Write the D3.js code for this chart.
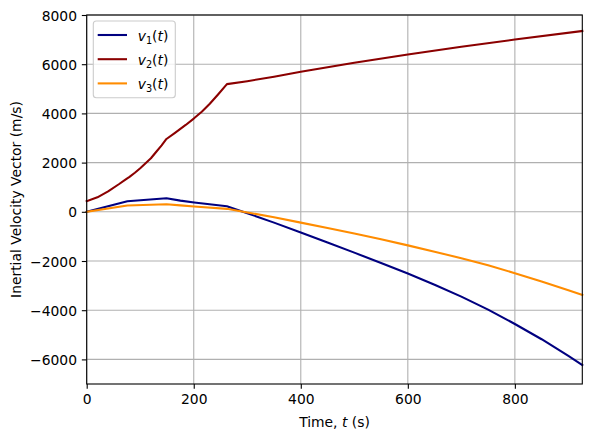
<html lang="en">
<head>
    <meta charset="UTF-8">
    <title>Inertial Velocity Vector</title>
    <script src="https://cdn.jsdelivr.net/npm/d3@7/dist/d3.min.js"></script>
    <style>
        body { margin: 0; background: #fff; }
        text { font-family: "DejaVu Sans", sans-serif; }
    </style>
</head>
<body>
    <svg id="svg"></svg>

    <script>

        var WIDTH = 592;
        var HEIGHT = 440;
        var FS = 13.89;

        // data
        var t1 = [0, 76, 149, 175, 201, 262, 300, 350, 400, 450, 500, 550, 600, 650, 700, 750, 800, 850, 900, 926];
        var v1 = [0, 430, 550, 455, 380, 226, -55, -440, -838, -1245, -1660, -2080, -2510, -2965, -3450, -3975, -4560, -5180, -5860, -6230];

        var t2 = [0, 20, 40, 60, 73, 80, 90, 100, 110, 120, 130, 140, 149, 165, 185, 200, 215, 230, 245, 262, 300, 350, 400, 500, 600, 700, 800, 926];
        var v2 = [430, 590, 830, 1120, 1320, 1422, 1587, 1770, 1974, 2178, 2442, 2700, 2960, 3210, 3530, 3790, 4070, 4390, 4760, 5190, 5310, 5490, 5690, 6060, 6394, 6710, 7003, 7350];

        var t3 = [0, 76, 149, 175, 201, 262, 300, 350, 400, 450, 500, 550, 600, 650, 700, 750, 800, 850, 900, 926];
        var v3 = [0, 255, 307, 262, 214, 120, -25, -225, -440, -660, -885, -1120, -1365, -1620, -1890, -2175, -2495, -2835, -3190, -3380];

        var xTicks = [0, 200, 400, 600, 800];
        var yTicks = [-6000, -4000, -2000, 0, 2000, 4000, 6000, 8000];

        var series = [
            {name: "1", t: t1, v: v1, color: "#000080"},
            {name: "2", t: t2, v: v2, color: "#8b0000"},
            {name: "3", t: t3, v: v3, color: "#ff8c00"}
        ];

        var PL = 86.7, PR = 582.3, PT = 15, PB = 384;

        var xScale = d3.scaleLinear().domain([0, 926]).range([PL, PR]);
        var yScale = d3.scaleLinear().domain([-7000, 8000]).range([PB, PT]);

        var svg = d3.select('#svg')
                    .attr("width", WIDTH)
                    .attr("height", HEIGHT);

        // grid
        svg.append("g").selectAll("line.gx")
            .data(xTicks).enter().append("line")
            .attr("x1", d => xScale(d)).attr("x2", d => xScale(d))
            .attr("y1", PT).attr("y2", PB)
            .attr("stroke", "#b0b0b0").attr("stroke-width", 1.1);

        svg.append("g").selectAll("line.gy")
            .data(yTicks).enter().append("line")
            .attr("y1", d => yScale(d)).attr("y2", d => yScale(d))
            .attr("x1", PL).attr("x2", PR)
            .attr("stroke", "#b0b0b0").attr("stroke-width", 1.1);

        // lines
        var line = d3.line()
            .x(d => xScale(d[0]))
            .y(d => yScale(d[1]));

        var plot = svg.append("g");
        series.forEach(function(s){
            plot.append("path")
                .datum(d3.zip(s.t, s.v))
                .attr("d", line)
                .attr("fill", "none")
                .attr("stroke", s.color)
                .attr("stroke-width", 2.08)
                .attr("stroke-linejoin", "round")
                .attr("stroke-linecap", "square");
        });

        // axes
        var fmt = function(d){ return d < 0 ? "\u2212" + Math.abs(d) : String(d); };

        var xAxis = d3.axisBottom(xScale).tickValues(xTicks).tickSize(4.86).tickPadding(4.86).tickFormat(fmt);
        var yAxis = d3.axisLeft(yScale).tickValues(yTicks).tickSize(4.86).tickPadding(4.86).tickFormat(fmt);

        var gx = svg.append("g")
            .attr("transform", "translate(0," + PB + ")")
            .call(xAxis);
        var gy = svg.append("g")
            .attr("transform", "translate(" + PL + ",0)")
            .call(yAxis);

        [gx, gy].forEach(function(g){
            g.select(".domain").remove();
            g.selectAll(".tick line").attr("stroke", "#000").attr("stroke-width", 1.1);
            g.selectAll(".tick text")
                .attr("fill", "#000")
                .attr("font-size", FS)
                .attr("font-family", "DejaVu Sans");
        });
        gx.selectAll(".tick text").attr("dy", "0.75em");
        gy.selectAll(".tick text").attr("dy", "0.36em");

        // frame
        svg.append("rect")
            .attr("x", PL).attr("y", PT)
            .attr("width", PR - PL).attr("height", PB - PT)
            .attr("fill", "none")
            .attr("stroke", "#000")
            .attr("stroke-width", 1.1);

        // labels
        var xl = svg.append("text")
            .attr("x", (PL + PR) / 2)
            .attr("y", 427)
            .attr("text-anchor", "middle")
            .attr("font-size", FS);
        xl.append("tspan").text("Time, ");
        xl.append("tspan").attr("font-style", "italic").text("t");
        xl.append("tspan").text(" (s)");

        svg.append("text")
            .attr("transform", "translate(21," + ((PT + PB) / 2) + ") rotate(-90)")
            .attr("text-anchor", "middle")
            .attr("font-size", FS)
            .text("Inertial Velocity Vector (m/s)");

        // legend
        var legend = svg.append("g");
        legend.append("rect")
            .attr("x", 93.3).attr("y", 21)
            .attr("width", 82).attr("height", 76.7)
            .attr("rx", 3).attr("ry", 3)
            .attr("fill", "#fff").attr("fill-opacity", 0.8)
            .attr("stroke", "#cccccc").attr("stroke-width", 1.1);

        series.forEach(function(s, i){
            var y = 35 + i * 24.2;
            legend.append("line")
                .attr("x1", 97.7).attr("x2", 127)
                .attr("y1", y).attr("y2", y)
                .attr("stroke", s.color).attr("stroke-width", 2.08);
            var tx = legend.append("text")
                .attr("x", 137.7).attr("y", y + 6)
                .attr("font-size", FS);
            tx.append("tspan").attr("font-style", "italic").text("v");
            tx.append("tspan").attr("font-size", FS * 0.7).attr("dy", 3).text(s.name);
            tx.append("tspan").attr("dy", -3).text("(");
            tx.append("tspan").attr("font-style", "italic").text("t");
            tx.append("tspan").text(")");
        });

    </script>
</body>
</html>
